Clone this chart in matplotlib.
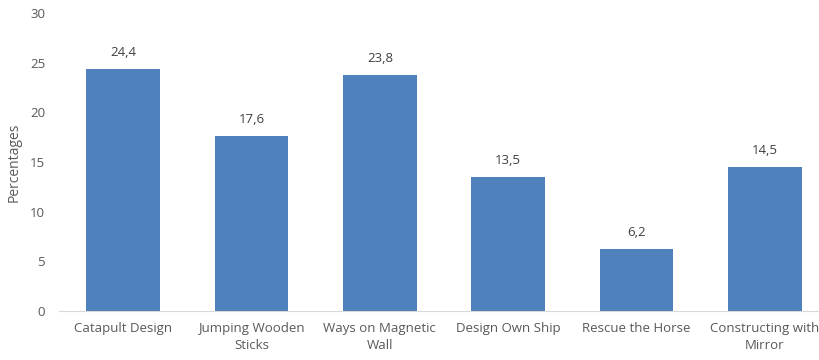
import matplotlib
matplotlib.use("Agg")
import matplotlib.pyplot as plt

categories = ["Catapult Design", "Jumping Wooden\nSticks", "Ways on Magnetic\nWall",
              "Design Own Ship", "Rescue the Horse", "Constructing with\nMirror"]
values = [24.4, 17.6, 23.8, 13.5, 6.2, 14.5]
value_labels = ["24,4", "17,6", "23,8", "13,5", "6,2", "14,5"]
yticks = [0, 5, 10, 15, 20, 25, 30]

plt.rcParams['font.family'] = ['Open Sans', 'DejaVu Sans']
txt = '#595959'

fig = plt.figure(figsize=(8.2, 3.6), dpi=100)
ax = fig.add_axes([59/820, 1 - 311/360, (829 - 59)/820, 298/360])
x = list(range(len(categories)))
ax.bar(x, values, width=0.575, color='#4F81BD', zorder=2)
for xi, v, lab in zip(x, values, value_labels):
    ax.text(xi, v + 1.0, lab, ha='center', va='bottom', fontsize=9.5, color='#404040')

ax.set_xlim(-0.5, 5.5)
ax.set_ylim(0, 30)
ax.set_yticks(yticks)
ax.set_yticklabels([str(t) for t in yticks])
ax.set_xticks(x)
ax.set_xticklabels(categories, linespacing=1.35)
ax.tick_params(axis='both', length=0, labelsize=9.5, colors=txt)
ax.tick_params(axis='x', pad=8)
ax.tick_params(axis='y', pad=10)
for s in ['top', 'right', 'left']:
    ax.spines[s].set_visible(False)
ax.spines['bottom'].set_color('#D9D9D9')
ax.set_ylabel('Percentages', fontsize=10, color=txt, labelpad=6)

fig.savefig('out.png', dpi=100)
